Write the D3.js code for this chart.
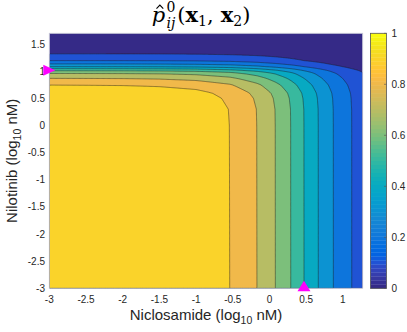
<!DOCTYPE html>
<html lang="en">
<head>
<meta charset="utf-8">
<title>p hat contour</title>
<script src="https://d3js.org/d3.v7.min.js"></script>
<style>
  body { margin: 0; background: #fff; }
  svg text { font-family: "Liberation Sans", Arial, Helvetica, sans-serif; fill: #262626; }
  .tick-label { font-size: 10px; }
  .axis-label { font-size: 15px; }
  text.title { font-family: "DejaVu Serif", serif; fill: #000; }
</style>
</head>
<body>
<svg id="chart" width="407" height="332"></svg>
<script>

// data ****************************************

// contour levels of the filled plot
const levels = [0.1, 0.2, 0.3, 0.4, 0.5, 0.6, 0.7, 0.8, 0.9];

// Niclosamide response along the bottom edge (Nilotinib = -3), read where contours meet the axis
const nicloX = [-3, -2.5, -2, -1.5, -1, -0.54, -0.17, 0.08, 0.29, 0.47, 0.665, 0.87, 1.12, 1.27];
const nicloP = [1.0, 0.998, 0.995, 0.985, 0.96, 0.9, 0.8, 0.7, 0.6, 0.5, 0.4, 0.3, 0.2, 0.15];

// Nilotinib response along the left edge (Niclosamide = -3)
const niloY = [-3, 0, 0.3, 0.5, 0.6, 0.747, 0.871, 0.963, 1.011, 1.048, 1.085, 1.135, 1.196, 1.319, 1.45, 1.7];
const niloP = [1.0, 0.999, 0.997, 0.984, 0.966, 0.9, 0.8, 0.7, 0.6, 0.5, 0.4, 0.3, 0.2, 0.1, 0.03, 0.005];

// magenta markers
const markerX = [-3, 0.47];
const markerY = [1.02, -3];
const markerDir = ["right", "up"];

const xTicks = [-3, -2.5, -2, -1.5, -1, -0.5, 0, 0.5, 1];
const yTicks = [-3, -2.5, -2, -1.5, -1, -0.5, 0, 0.5, 1, 1.5];
const cbTicks = [0, 0.2, 0.4, 0.6, 0.8, 1];

const xDomain = [-3, 1.27];
const yDomain = [-3, 1.7];

// parula colormap (64 steps)
const parula = ["#352a87","#363093","#3637a0","#353dad","#3243ba","#2c4ac7","#2053d4","#0f5cdd",
  "#0363e1","#0268e1","#046de0","#0871de","#0d75dc","#1079da","#127dd8","#1481d6",
  "#1485d4","#1389d3","#108ed2","#0c93d2","#0998d1","#079ccf","#06a0cd","#06a4ca",
  "#06a7c6","#07a9c2","#0aacbe","#0faeb9","#15b1b4","#1db3af","#25b5a9","#2eb7a4",
  "#38b99e","#42bb98","#4dbc92","#59bd8c","#65be86","#71bf80","#7cbf7b","#87bf77",
  "#92bf73","#9cbf6f","#a5be6b","#aebe67","#b7bd64","#c0bc60","#c8bc5d","#d1bb59",
  "#d9ba56","#e1b952","#e9b94e","#f1b94a","#f8bb44","#fdbe3d","#ffc337","#fec832",
  "#fcce2e","#fad32a","#f7d826","#f5de21","#f5e41d","#f5eb18","#f6f313","#f9fb0e"];

// layout ****************************************

const plot = {left: 49.3, right: 362.7, top: 33.3, bottom: 288.3};
const cb = {left: 370.5, right: 386.5};

const svg = d3.select("#chart");

const x = d3.scaleLinear().domain(xDomain).range([plot.left, plot.right]);
const y = d3.scaleLinear().domain(yDomain).range([plot.bottom, plot.top]);

function levelColor(v) {
  return parula[Math.max(0, Math.min(63, Math.floor(v * 64 + 1e-9)))];
}

// build grid from the two edge responses
const gx = d3.scaleLinear().domain(nicloX).range(nicloP).clamp(true);
const hy = d3.scaleLinear().domain(niloY).range(niloP).clamp(true);

const nx = 260, ny = 210;
const grid = new Array(nx * ny);
for (let j = 0; j < ny; j++) {
  const yv = yDomain[1] - (j + 0.5) / ny * (yDomain[1] - yDomain[0]);
  for (let i = 0; i < nx; i++) {
    const xv = xDomain[0] + (i + 0.5) / nx * (xDomain[1] - xDomain[0]);
    grid[j * nx + i] = gx(xv) * hy(yv);
  }
}

const contours = d3.contours().size([nx, ny]).thresholds(levels)(grid);

const sx = (plot.right - plot.left) / nx, sy = (plot.bottom - plot.top) / ny;
const path = d3.geoPath(d3.geoTransform({
  point: function(px, py) { this.stream.point(plot.left + px * sx, plot.top + py * sy); }
}));

svg.append("clipPath").attr("id", "clip")
  .append("rect")
    .attr("x", plot.left).attr("y", plot.top)
    .attr("width", plot.right - plot.left).attr("height", plot.bottom - plot.top);

const g = svg.append("g").attr("clip-path", "url(#clip)");

g.append("rect")
  .attr("x", plot.left).attr("y", plot.top)
  .attr("width", plot.right - plot.left).attr("height", plot.bottom - plot.top)
  .attr("fill", levelColor(0));

g.selectAll("path.band")
  .data(contours)
  .join("path")
    .attr("class", "band")
    .attr("d", path)
    .attr("fill", d => levelColor(d.value))
    .attr("stroke", "#1a1a1a")
    .attr("stroke-opacity", 0.75)
    .attr("stroke-width", 0.6);

// frame
svg.append("rect")
  .attr("x", plot.left).attr("y", plot.top)
  .attr("width", plot.right - plot.left).attr("height", plot.bottom - plot.top)
  .attr("fill", "none")
  .attr("stroke", "#c4c4d4")
  .attr("stroke-width", 0.8);

// tick labels
svg.selectAll("text.xt")
  .data(xTicks)
  .join("text")
    .attr("class", "tick-label")
    .attr("x", d => x(d))
    .attr("y", 302.5)
    .attr("text-anchor", "middle")
    .text(d => String(d));

svg.selectAll("text.yt")
  .data(yTicks)
  .join("text")
    .attr("class", "tick-label")
    .attr("x", 45)
    .attr("y", d => y(d) + 3.5)
    .attr("text-anchor", "end")
    .text(d => String(d));

// axis labels
const xl = svg.append("text")
  .attr("class", "axis-label")
  .attr("x", (plot.left + plot.right) / 2)
  .attr("y", 320)
  .attr("text-anchor", "middle");
xl.append("tspan").text("Niclosamide (log");
xl.append("tspan").attr("dy", 4).style("font-size", "10.5px").text("10");
xl.append("tspan").attr("dy", -4).text(" nM)");

const yl = svg.append("text")
  .attr("class", "axis-label")
  .attr("transform", `translate(16.5,${(plot.top + plot.bottom) / 2}) rotate(-90)`)
  .attr("text-anchor", "middle");
yl.append("tspan").text("Nilotinib (log");
yl.append("tspan").attr("dy", 4).style("font-size", "10.5px").text("10");
yl.append("tspan").attr("dy", -4).text(" nM)");

// markers
const markers = markerX.map((d, i) => ({x: markerX[i], y: markerY[i], dir: markerDir[i]}));
svg.selectAll("path.marker")
  .data(markers)
  .join("path")
    .attr("class", "marker")
    .attr("d", d => {
      const cx = x(d.x), cy = y(d.y);
      if (d.dir === "right") return `M${cx - 6},${cy - 5.5}L${cx + 6},${cy}L${cx - 6},${cy + 5.5}Z`;
      return `M${cx},${cy - 7.5}L${cx + 6.5},${cy + 3}L${cx - 6.5},${cy + 3}Z`;
    })
    .attr("fill", "#ff00ff");

// colorbar
const cy = d3.scaleLinear().domain([0, 1]).range([plot.bottom, plot.top]);
svg.selectAll("rect.cb")
  .data(parula)
  .join("rect")
    .attr("class", "cb")
    .attr("x", cb.left)
    .attr("width", cb.right - cb.left)
    .attr("y", (d, i) => cy((i + 1) / 64))
    .attr("height", (d, i) => cy(i / 64) - cy((i + 1) / 64) + 0.3)
    .attr("fill", d => d);

svg.append("rect")
  .attr("x", cb.left).attr("y", plot.top)
  .attr("width", cb.right - cb.left).attr("height", plot.bottom - plot.top)
  .attr("fill", "none")
  .attr("stroke", "#555")
  .attr("stroke-width", 0.8);

svg.selectAll("line.cbt")
  .data(cbTicks)
  .join("line")
    .attr("x1", cb.right - 2.5).attr("x2", cb.right)
    .attr("y1", d => cy(d)).attr("y2", d => cy(d))
    .attr("stroke", "#555")
    .attr("stroke-width", 0.6);

svg.selectAll("text.cbl")
  .data(cbTicks)
  .join("text")
    .attr("class", "tick-label")
    .attr("x", 391.5)
    .attr("y", d => cy(d) + 3.5)
    .text(d => String(d));

// title: \hat{p}^0_{ij}(x_1, x_2)
const t = svg.append("text")
  .attr("class", "title")
  .attr("x", 0)
  .attr("y", 22)
  .style("font-size", "21px");
t.append("tspan").style("font-style", "italic").text("p");
t.append("tspan").attr("dx", 1.5).attr("dy", -10).style("font-size", "14px").text("0");
t.append("tspan").attr("dx", -9).attr("dy", 15.5).style("font-size", "14px").style("font-style", "italic").text("ij");
t.append("tspan").attr("dx", 2).attr("dy", -5.5).text("(");
t.append("tspan").style("font-weight", "bold").text("x");
t.append("tspan").attr("dy", 3.5).style("font-size", "14px").text("1");
t.append("tspan").attr("dy", -3.5).text(",");
t.append("tspan").attr("dx", 7).style("font-weight", "bold").text("x");
t.append("tspan").attr("dy", 3.5).style("font-size", "14px").text("2");
t.append("tspan").attr("dy", -3.5).text(")");

const tb = t.node().getBBox();
const tx = 201 - tb.width / 2 - tb.x;
t.attr("transform", `translate(${tx},0)`);

// hat over the p
const pBox = t.node().getExtentOfChar(0);
const hx = tx + pBox.x + pBox.width / 2 + 1.5;
svg.append("path")
  .attr("d", `M${hx - 3.4},${8.6}L${hx},${5}L${hx + 3.4},${8.6}`)
  .attr("fill", "none")
  .attr("stroke", "#000")
  .attr("stroke-width", 1.1);

</script>
</body>
</html>
